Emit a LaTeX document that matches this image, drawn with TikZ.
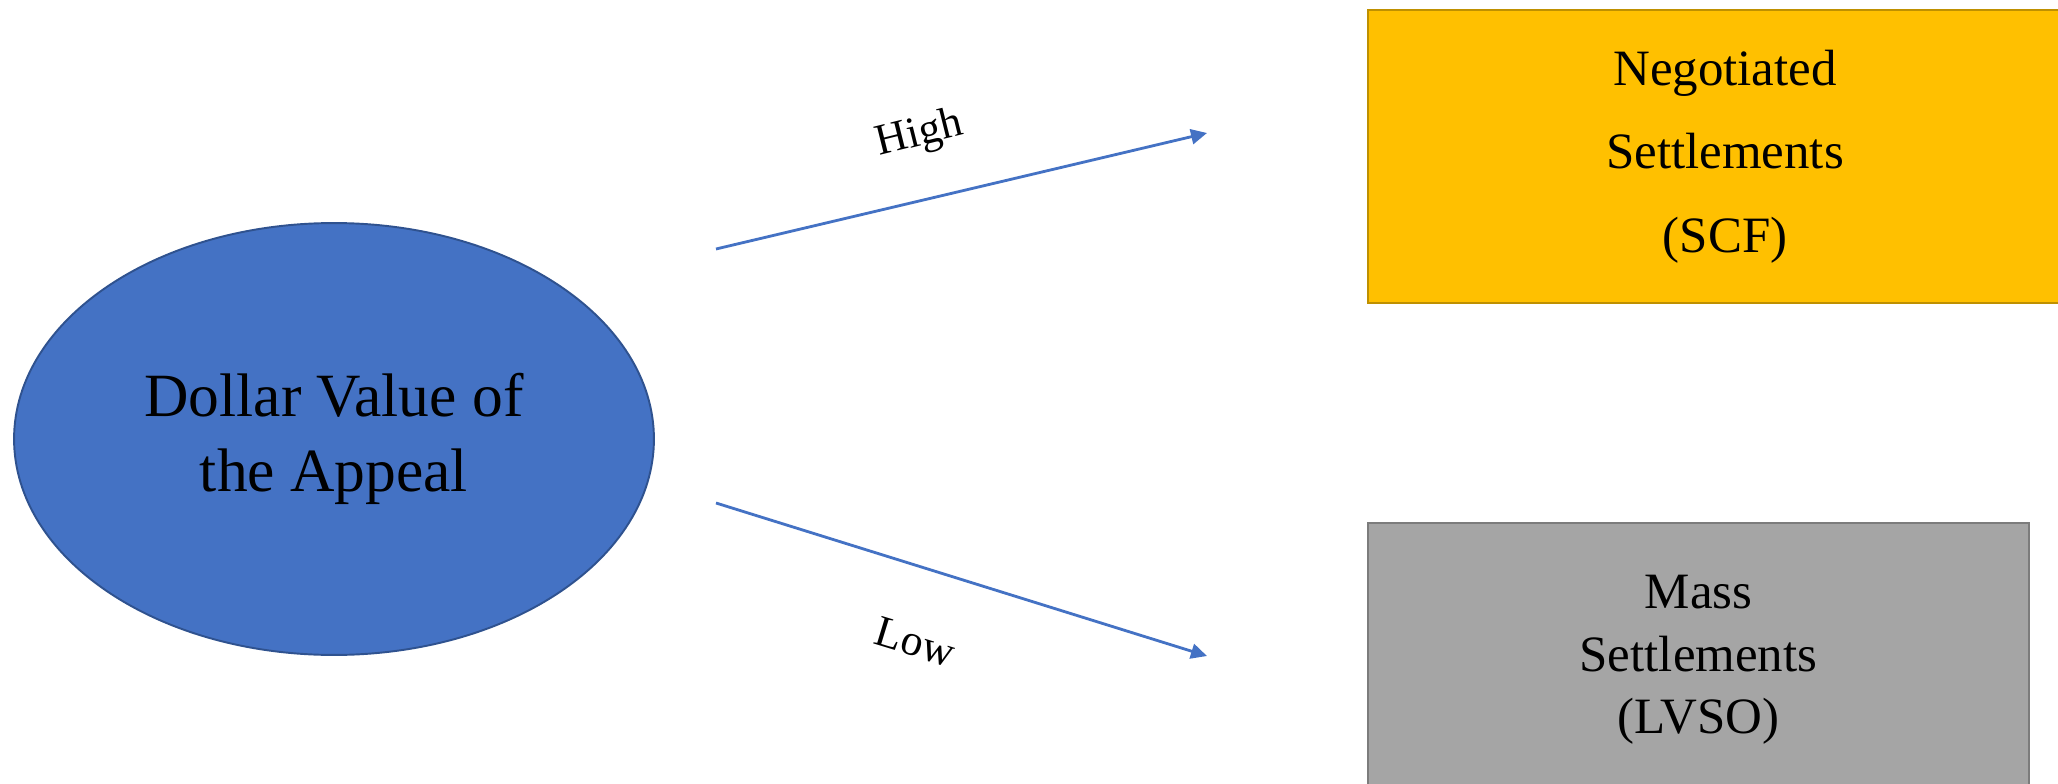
\documentclass[tikz,border=0pt]{standalone}
\usepackage{fontspec}
\setmainfont{Liberation Serif}
\usetikzlibrary{
    arrows.meta,
    shapes.geometric
}

\definecolor{appealblue}{RGB}{68,114,196}
\definecolor{appealline}{RGB}{47,82,143}
\definecolor{scfgold}{RGB}{255,192,0}
\definecolor{scfline}{RGB}{191,144,0}
\definecolor{lvsogray}{RGB}{165,165,165}
\definecolor{lvsoline}{RGB}{124,124,124}

\begin{document}
\begin{tikzpicture}[x=0.02cm,y=-0.02cm,
    branch/.style={draw=appealblue,line width=1.6pt,
        -{Triangle[length=0.32cm,width=0.3cm]}},
    outcome/.style={line width=1.1pt,align=center,inner sep=0pt},
    branchlabel/.style={font=\fontsize{25pt}{28pt}\selectfont,inner sep=1pt}
]

% Page
\useasboundingbox (0,0) rectangle (2058,784);

% Source
\node[ellipse,fill=appealblue,draw=appealline,line width=1.1pt,
      minimum width=12.8cm,minimum height=8.64cm,align=center,
      font=\fontsize{35pt}{43pt}\selectfont]
    (appeal) at (334,439) {Dollar Value of\\the Appeal};

% Outcomes
\node[outcome,fill=scfgold,draw=scfline,
      minimum width=14.28cm,minimum height=5.86cm,
      font=\fontsize{29pt}{47.6pt}\selectfont]
    (scf) at (1725,156.5) {Negotiated\\Settlements\\(SCF)};
\node[outcome,fill=lvsogray,draw=lvsoline,
      minimum width=13.22cm,minimum height=5.48cm,
      font=\fontsize{29pt}{35.7pt}\selectfont]
    (lvso) at (1698.5,660) {Mass\\Settlements\\(LVSO)};

% Branch ends
\coordinate (highstart) at (716,249);
\coordinate (highend) at (1207,133);
\coordinate (lowstart) at (716,503);
\coordinate (lowend) at (1207,656);

% Branches
\draw[branch] (highstart) -- (highend);
\draw[branch] (lowstart) -- (lowend);

\node[branchlabel,rotate=14] (high) at (920,135) {High};
\node[branchlabel,rotate=-17] (low) at (915,642) {Low};

\end{tikzpicture}
\end{document}
